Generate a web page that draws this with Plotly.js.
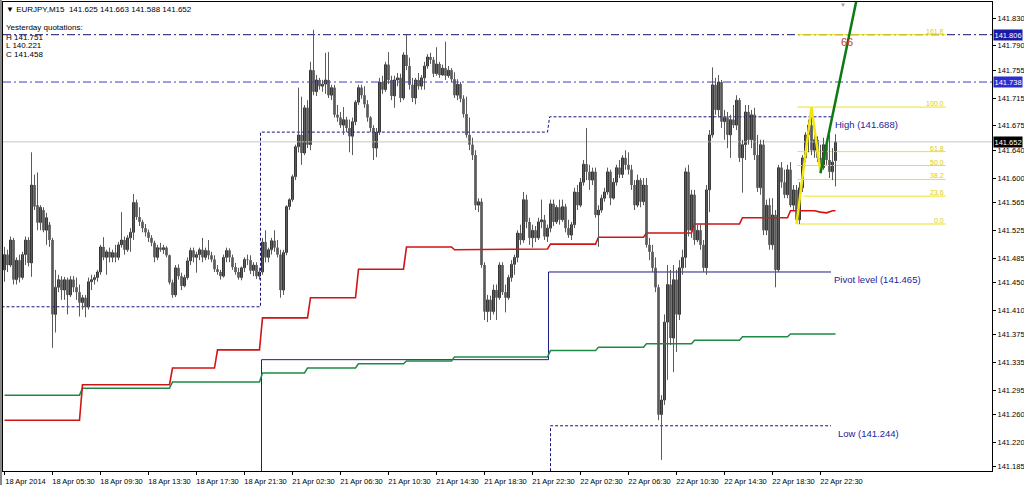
<!DOCTYPE html>
<html><head><meta charset="utf-8">
<script src="https://cdn.plot.ly/plotly-3.0.1.min.js"></script>
<style>html,body{margin:0;padding:0;background:#fff;}#chart{width:1024px;height:486px;}</style>
</head><body><div id="chart"></div>
<script>
// ---- EURJPY M15 candles (18-22 Apr 2014) ----
const open = [141.468,141.490,141.475,141.511,141.454,141.482,141.457,141.490,141.511,141.478,
141.590,141.561,141.536,141.554,141.525,141.533,141.511,141.404,141.443,141.454,
141.439,141.454,141.432,141.454,141.443,141.436,141.421,141.428,141.415,141.451,
141.454,141.457,141.465,141.501,141.486,141.494,141.486,141.493,141.486,141.504,
141.511,141.497,141.514,141.522,141.565,141.544,141.537,141.528,141.522,141.514,
141.507,141.486,141.500,141.497,141.500,141.489,141.450,141.432,141.471,141.459,
141.445,141.457,141.481,141.496,141.486,141.490,141.497,141.486,141.496,141.489,
141.483,141.469,141.465,141.459,141.486,141.496,141.486,141.472,141.465,141.457,
141.471,141.483,141.482,141.467,141.475,141.459,141.465,141.508,141.486,141.497,
141.510,141.500,141.490,141.439,141.493,141.559,141.569,141.602,141.645,141.662,
141.636,141.701,141.648,141.755,141.724,141.741,141.732,141.735,141.741,141.719,
141.730,141.691,141.687,141.676,141.684,141.672,141.660,141.681,141.709,141.730,
141.719,141.706,141.687,141.672,141.643,141.666,141.738,141.727,141.763,141.741,
141.718,141.741,141.744,141.715,141.777,141.761,141.734,141.715,141.741,141.732,
141.744,141.761,141.774,141.770,141.750,141.764,141.748,141.758,141.747,141.755,
141.742,141.719,141.735,141.714,141.692,141.662,141.648,141.633,141.561,141.566,
141.475,141.408,141.425,141.408,141.439,141.428,141.475,141.436,141.428,141.457,
141.476,141.486,141.521,141.511,141.569,141.537,141.514,141.525,141.514,141.537,
141.540,141.516,141.528,141.563,141.537,141.558,141.540,141.559,141.528,141.518,
141.533,141.580,141.561,141.594,141.620,141.609,141.597,141.609,141.547,141.554,
141.571,141.580,141.609,141.571,141.594,141.615,141.605,141.629,141.619,141.612,
141.590,141.561,141.597,141.566,141.590,141.504,141.494,141.471,141.443,141.260,
141.281,141.393,141.447,141.370,141.454,141.404,141.471,141.486,141.609,141.525,
141.576,141.511,141.525,141.504,141.471,141.583,141.662,141.734,141.698,141.738,
141.681,141.687,141.662,141.684,141.676,141.712,141.629,141.648,141.695,141.655,
141.691,141.633,141.586,141.648,141.525,141.561,141.504,141.547,141.468,141.615,
141.594,141.576,141.612,141.561,141.583,141.540,141.586,141.629,141.662,141.676,
141.640,141.655,141.629,141.615,141.648,141.626,141.609,141.625];
const high = [141.501,141.497,141.516,141.514,141.486,141.490,141.494,141.516,141.515,141.637,
141.605,141.608,141.561,141.558,141.550,141.537,141.514,141.468,141.461,141.459,
141.458,141.457,141.459,141.459,141.457,141.447,141.432,141.432,141.457,141.461,
141.461,141.468,141.504,141.515,141.497,141.500,141.497,141.504,141.508,141.551,
141.516,141.518,141.528,141.577,141.569,141.558,141.540,141.534,141.526,141.518,
141.510,141.504,141.507,141.504,141.502,141.490,141.454,141.475,141.476,141.464,
141.461,141.486,141.500,141.500,141.494,141.500,141.514,141.500,141.511,141.494,
141.489,141.475,141.468,141.490,141.500,141.499,141.490,141.478,141.471,141.473,
141.486,141.490,141.489,141.479,141.479,141.471,141.514,141.525,141.500,141.514,
141.525,141.511,141.497,141.497,141.561,141.571,141.605,141.648,141.730,141.717,
141.705,141.712,141.767,141.813,141.748,141.744,141.741,141.780,141.781,141.734,
141.734,141.705,141.695,141.702,141.688,141.684,141.687,141.712,141.734,141.734,
141.732,141.712,141.689,141.676,141.672,141.744,141.747,141.767,141.781,141.747,
141.747,141.751,141.750,141.781,141.806,141.773,141.744,141.744,141.751,141.748,
141.767,141.778,141.780,141.774,141.788,141.767,141.763,141.796,141.761,141.758,
141.752,141.742,141.738,141.719,141.717,141.687,141.658,141.640,141.571,141.571,
141.479,141.432,141.431,141.447,141.447,141.479,141.479,141.447,141.461,141.482,
141.490,141.525,141.533,141.580,141.576,141.543,141.533,141.531,141.543,141.569,
141.547,141.533,141.569,141.569,141.561,141.569,141.569,141.563,141.540,141.537,
141.586,141.590,141.600,141.626,141.672,141.619,141.615,141.615,141.561,141.576,
141.586,141.615,141.612,141.600,141.619,141.626,141.633,141.640,141.637,141.619,
141.597,141.605,141.600,141.600,141.600,141.514,141.504,141.486,141.447,141.288,
141.404,141.475,141.468,141.475,141.468,141.482,141.497,141.615,141.619,141.583,
141.583,141.533,141.533,141.511,141.590,141.669,141.759,141.744,141.748,141.741,
141.698,141.695,141.691,141.705,141.719,141.715,141.655,141.705,141.705,141.698,
141.701,141.662,141.655,141.655,141.569,141.571,141.571,141.554,141.619,141.623,
141.612,141.619,141.623,141.590,141.590,141.594,141.633,141.666,141.684,141.702,
141.662,141.660,141.648,141.658,141.655,141.662,141.643,141.663];
const low = [141.451,141.465,141.472,141.447,141.447,141.450,141.454,141.475,141.473,141.458,
141.554,141.525,141.525,141.522,141.504,141.501,141.356,141.378,141.436,141.425,
141.425,141.404,141.429,141.436,141.425,141.401,141.411,141.400,141.411,141.439,
141.447,141.451,141.461,141.482,141.461,141.479,141.479,141.479,141.482,141.500,
141.490,141.494,141.494,141.511,141.540,141.531,141.522,141.516,141.508,141.502,
141.479,141.482,141.494,141.491,141.486,141.447,141.428,141.429,141.454,141.439,
141.443,141.454,141.475,141.479,141.464,141.482,141.479,141.482,141.483,141.479,
141.465,141.461,141.454,141.457,141.479,141.479,141.468,141.461,141.454,141.453,
141.465,141.475,141.462,141.459,141.455,141.454,141.461,141.479,141.479,141.490,
141.494,141.486,141.428,141.432,141.489,141.554,141.566,141.597,141.637,141.619,
141.633,141.643,141.640,141.719,141.718,141.727,141.724,141.721,141.715,141.712,
141.687,141.681,141.672,141.662,141.666,141.637,141.633,141.676,141.705,141.714,
141.701,141.681,141.666,141.626,141.630,141.662,141.721,141.724,141.735,141.712,
141.701,141.732,141.709,141.712,141.755,141.727,141.709,141.706,141.727,141.727,
141.727,141.757,141.764,141.745,141.747,141.744,141.747,141.741,141.744,141.738,
141.715,141.712,141.709,141.687,141.658,141.640,141.626,141.554,141.551,141.471,
141.396,141.393,141.396,141.404,141.396,141.425,141.432,141.407,141.425,141.451,
141.461,141.479,141.504,141.507,141.528,141.504,141.500,141.508,141.511,141.528,
141.511,141.508,141.522,141.531,141.534,141.533,141.537,141.522,141.514,141.511,
141.528,141.554,141.558,141.589,141.597,141.583,141.590,141.543,141.501,141.550,
141.566,141.576,141.561,141.569,141.589,141.600,141.600,141.612,141.605,141.583,
141.554,141.558,141.558,141.561,141.500,141.482,141.465,141.436,141.252,141.195,
141.274,141.310,141.360,141.321,141.350,141.396,141.461,141.471,141.516,141.514,
141.504,141.508,141.497,141.465,141.461,141.551,141.658,141.691,141.687,141.672,
141.655,141.643,141.629,141.672,141.669,141.623,141.579,141.626,141.648,141.643,
141.626,141.580,141.576,141.518,141.518,141.497,141.497,141.443,141.465,141.586,
141.571,141.571,141.558,141.554,141.534,141.534,141.580,141.623,141.637,141.633,
141.629,141.623,141.608,141.612,141.619,141.600,141.597,141.588];
const close = [141.490,141.475,141.511,141.454,141.482,141.457,141.490,141.511,141.478,141.590,
141.559,141.536,141.558,141.525,141.543,141.511,141.404,141.443,141.454,141.439,
141.454,141.432,141.454,141.443,141.436,141.421,141.428,141.415,141.451,141.454,
141.457,141.465,141.501,141.486,141.494,141.486,141.493,141.486,141.504,141.511,
141.497,141.514,141.522,141.565,141.544,141.537,141.528,141.522,141.514,141.507,
141.486,141.500,141.497,141.500,141.489,141.450,141.432,141.471,141.459,141.445,
141.457,141.481,141.496,141.486,141.490,141.497,141.486,141.496,141.489,141.483,
141.469,141.465,141.459,141.486,141.496,141.486,141.472,141.465,141.457,141.471,
141.483,141.482,141.467,141.475,141.459,141.465,141.508,141.486,141.497,141.510,
141.500,141.490,141.439,141.493,141.559,141.569,141.602,141.645,141.662,141.636,
141.701,141.648,141.755,141.724,141.741,141.732,141.735,141.741,141.719,141.730,
141.691,141.687,141.676,141.684,141.672,141.660,141.681,141.709,141.730,141.719,
141.706,141.687,141.672,141.643,141.666,141.738,141.727,141.763,141.741,141.718,
141.741,141.744,141.715,141.777,141.761,141.734,141.715,141.741,141.732,141.744,
141.761,141.774,141.770,141.750,141.764,141.748,141.758,141.747,141.755,141.742,
141.719,141.735,141.714,141.692,141.662,141.648,141.633,141.561,141.566,141.475,
141.408,141.425,141.408,141.439,141.428,141.475,141.436,141.428,141.457,141.476,
141.486,141.521,141.511,141.569,141.537,141.514,141.525,141.514,141.537,141.540,
141.516,141.528,141.563,141.537,141.558,141.540,141.559,141.528,141.518,141.533,
141.580,141.561,141.594,141.620,141.609,141.597,141.609,141.547,141.554,141.571,
141.580,141.609,141.571,141.594,141.615,141.605,141.629,141.619,141.612,141.590,
141.561,141.597,141.566,141.590,141.504,141.494,141.471,141.443,141.260,141.281,
141.393,141.447,141.370,141.454,141.404,141.471,141.486,141.609,141.525,141.576,
141.511,141.525,141.504,141.471,141.583,141.662,141.734,141.698,141.738,141.681,
141.687,141.662,141.684,141.676,141.712,141.629,141.648,141.695,141.655,141.691,
141.633,141.586,141.648,141.525,141.561,141.504,141.547,141.468,141.615,141.594,
141.576,141.612,141.561,141.583,141.540,141.586,141.629,141.662,141.676,141.640,
141.655,141.629,141.615,141.648,141.626,141.609,141.623,141.652];

// ---- time axis ----
const timeTickBars = [0,16,32,48,64,80,96,112,128,144,160,176,192,208,224,240,256,272];
const timeTickLabels = ["18 Apr 2014","18 Apr 05:30","18 Apr 09:30","18 Apr 13:30","18 Apr 17:30","18 Apr 21:30",
"21 Apr 02:30","21 Apr 06:30","21 Apr 10:30","21 Apr 14:30","21 Apr 18:30","21 Apr 22:30",
"22 Apr 02:30","22 Apr 06:30","22 Apr 10:30","22 Apr 14:30","22 Apr 18:30","22 Apr 22:30"];
const priceTicks = [141.185,141.220,141.260,141.295,141.335,141.375,141.410,141.450,141.485,141.525,
141.565,141.600,141.640,141.675,141.715,141.755,141.790,141.830];

// ---- indicators ----
const redX = [0,25,26,55,56,70,71,85,86,101,102,117,118,133,134,149,150,166,167,181,182,197,198,213,214,229,230,245,246,261,262,270,272,274,276,277];
const redY = [141.252,141.252,141.303,141.303,141.327,141.327,141.353,141.353,141.399,141.399,141.428,141.428,141.469,141.469,141.501,141.501,141.497,141.497,141.498,141.498,141.505,141.505,141.515,141.515,141.521,141.521,141.534,141.534,141.543,141.543,141.553,141.553,141.551,141.550,141.553,141.553];
const greenX = [0,25,26,55,56,85,86,100,101,117,118,133,134,149,150,181,182,197,198,213,214,229,230,245,246,261,262,277];
const greenY = [141.288,141.288,141.298,141.298,141.307,141.307,141.320,141.320,141.327,141.327,141.333,141.333,141.337,141.337,141.343,141.343,141.352,141.352,141.357,141.357,141.362,141.362,141.367,141.367,141.372,141.372,141.376,141.376];
const pivotX = [85.67,85.67,181.33,181.33,275.5];
const pivotY = [141.15,141.339,141.339,141.465,141.465];
const dayHighX = [-1,85.33,85.33,181.0,181.7,275.5];
const dayHighY = [141.415,141.415,141.666,141.666,141.688,141.688];
const dayLowX = [182.0,182.0,275.5];
const dayLowY = [141.15,141.244,141.244];
const dashLevels = [141.806,141.738];
const fibNames = ["0.0","23.6","38.2","50.0","61.8","100.0","161.8"];
const fibPrices = [141.534,141.574,141.598,141.618,141.638,141.702,141.806];
const fibStart = [264.3,266.3,264.3,264.3,264.3,264.3,264.3];
const fibEnd = 313.7;
const zigX = [264,269,272];
const zigY = [141.534,141.702,141.608];
const trendX = [272,287];
const trendY = [141.607,141.918];

// ---- build traces ----
const bullB = {x:[],base:[],y:[]}, bearB = {x:[],base:[],y:[]};
const wx = [], wy = [];
for (let i = 0; i < close.length; i++) {
  const b = close[i] >= open[i] ? bullB : bearB;
  b.x.push(i); b.base.push(Math.min(open[i], close[i]));
  b.y.push(Math.max(Math.abs(close[i] - open[i]), 0.0006));
  wx.push(i, i, null); wy.push(low[i], high[i], null);
}
const fx = [], fy = [];
fibPrices.forEach((p, k) => { fx.push(fibStart[k], fibEnd, null); fy.push(p, p, null); });
const last = close[close.length - 1];
const XR = [-0.5, 329.1667];

const traces = [
  {x: XR, y: [last, last], mode: 'lines', line: {color: '#c4c4c4', width: 1}},
  {x: XR, y: [dashLevels[0], dashLevels[0]], mode: 'lines', line: {color: '#10106e', width: 1, dash: '8px,3px,2px,3px'}},
  {x: XR, y: [dashLevels[1], dashLevels[1]], mode: 'lines', line: {color: '#3a3ac4', width: 1, dash: '8px,3px,2px,3px'}},
  {x: dayHighX, y: dayHighY, mode: 'lines', line: {color: '#15157a', width: 1, dash: '3px,2px'}},
  {x: dayLowX, y: dayLowY, mode: 'lines', line: {color: '#15157a', width: 1, dash: '3px,2px'}},
  {x: pivotX, y: pivotY, mode: 'lines', line: {color: '#1c1c8a', width: 1}},
  {x: fx, y: fy, mode: 'lines', line: {color: '#eee21a', width: 1}},
  {x: greenX, y: greenY, mode: 'lines', line: {color: '#1e8a45', width: 1.5}},
  {x: redX, y: redY, mode: 'lines', line: {color: '#d01515', width: 1.6}},
  {x: wx, y: wy, mode: 'lines', line: {color: '#5a5a5a', width: 1}},
  {type: 'bar', x: bullB.x, base: bullB.base, y: bullB.y, width: 0.55,
   marker: {color: '#ffffff', line: {color: '#111', width: 1}}},
  {type: 'bar', x: bearB.x, base: bearB.base, y: bearB.y, width: 0.7,
   marker: {color: '#000000', line: {width: 0}}},
  {x: zigX, y: zigY, mode: 'lines', line: {color: '#f2e40c', width: 2.5}},
  {x: trendX, y: trendY, mode: 'lines', line: {color: '#0b7a12', width: 2.5}}
];

const px = p => (p - 3) / 989;
const py = p => 1 - (p - 2) / 469;
const F = 'Liberation Sans, Arial, sans-serif';
const ann = [];
const headerLines = ['\u25BC EURJPY,M15  141.625 141.663 141.588 141.652','Yesterday quotations:','H 141.751','L 140.221','C 141.458'];
const headerY = [9, 28, 37, 45.5, 54];
headerLines.forEach((t, k) => ann.push({xref: 'paper', yref: 'paper', x: px(4), y: py(headerY[k]), xanchor: 'left', yanchor: 'middle',
  text: t, showarrow: false, font: {family: F, size: 8, color: '#000'}}));
ann.push({xref: 'x', yref: 'y', x: 276.3, y: 141.688, xanchor: 'left', yanchor: 'top', text: 'High (141.688)', showarrow: false, font: {family: F, size: 9.5, color: '#1c1c9a'}});
ann.push({xref: 'x', yref: 'y', x: 275.7, y: 141.465, xanchor: 'left', yanchor: 'top', text: 'Pivot level (141.465)', showarrow: false, font: {family: F, size: 9.5, color: '#1c1c9a'}});
ann.push({xref: 'x', yref: 'y', x: 277.0, y: 141.244, xanchor: 'left', yanchor: 'top', text: 'Low (141.244)', showarrow: false, font: {family: F, size: 9.5, color: '#1c1c9a'}});
ann.push({xref: 'x', yref: 'y', x: 280.7, y: 141.796, xanchor: 'center', yanchor: 'middle', text: '66', showarrow: false, font: {family: F, size: 11, color: '#c23a2a'}});
fibPrices.forEach((p, k) => ann.push({xref: 'x', yref: 'y', x: fibEnd, y: p, xanchor: 'right', yanchor: 'bottom', yshift: -2,
  text: fibNames[k], showarrow: false, font: {family: F, size: 7, color: '#d8cc20'}}));
const tags = [[dashLevels[0], '#1a1aa8'], [dashLevels[1], '#2c2cd0'], [last, '#000000']];
tags.forEach(([v, c]) => ann.push({xref: 'paper', yref: 'y', x: 1, xshift: 1, y: v, xanchor: 'left', yanchor: 'middle',
  text: v.toFixed(3), showarrow: false, bgcolor: c, borderpad: 0.5, font: {family: F, size: 7.5, color: '#ffffff'}}));
ann.push({xref: 'paper', yref: 'paper', x: px(843), y: py(5), xanchor: 'center', yanchor: 'middle', text: '\u25BC', showarrow: false, font: {size: 6, color: '#9a9a9a'}});

const layout = {
  width: 1024, height: 486, margin: {l: 3, r: 32, t: 2, b: 15},
  paper_bgcolor: '#ffffff', plot_bgcolor: '#ffffff', showlegend: false, barmode: 'overlay',
  xaxis: {range: XR, showgrid: false, zeroline: false, showline: true, linecolor: '#000', linewidth: 1, mirror: true,
    tickmode: 'array', tickvals: timeTickBars, ticktext: timeTickLabels, ticks: 'outside', ticklen: 3, tickcolor: '#000',
    ticklabelshift: 21, tickfont: {family: F, size: 7.5, color: '#000'}, fixedrange: true},
  yaxis: {range: [141.179, 141.853], side: 'right', showgrid: false, zeroline: false, showline: true, linecolor: '#000', linewidth: 1, mirror: true,
    tickmode: 'array', tickvals: priceTicks, tickformat: '.3f', ticks: 'outside', ticklen: 3, tickcolor: '#000',
    tickfont: {family: F, size: 7.5, color: '#000'}, fixedrange: true},
  annotations: ann,
  shapes: [{type: 'line', xref: 'paper', yref: 'paper', x0: -2/989, x1: -2/989, y0: -0.03, y1: 1.005, line: {color: '#8a8a8a', width: 2}}]
};
Plotly.newPlot('chart', traces, layout, {staticPlot: true, displayModeBar: false});
</script>
</body></html>
